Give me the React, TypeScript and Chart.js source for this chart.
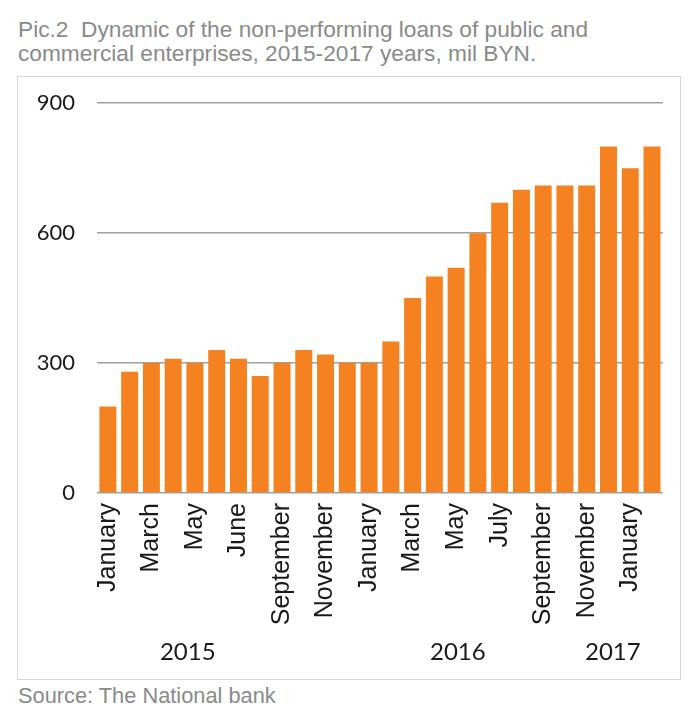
import React, { useEffect, useRef } from "react";
import { Chart, registerables } from "chart.js";

Chart.register(...registerables);

const categories: string[] = [
  "January", "", "March", "", "May", "", "June", "", "September", "", "November", "", "January",
  "", "March", "", "May", "", "July", "", "September", "", "November", "", "January", "",
];

const loans: number[] = [
  200, 280, 300, 310, 300, 330, 310, 270, 300, 330, 320, 300, 300,
  350, 450, 500, 520, 600, 670, 700, 710, 710, 710, 800, 750, 800,
];

const yTicks: number[] = [0, 300, 600, 900];

const yearLabels: string[] = ["2015", "2016", "2017"];
const yearCenters: number[] = [3.67, 16.08, 23.2];

const titleLines: string[] = [
  "Pic.2  Dynamic of the non-performing loans of public and",
  "commercial enterprises, 2015-2017 years, mil BYN.",
];
const sourceText = "Source: The National bank";

const CANVAS_TOP = 68;

const yearPlugin = {
  id: "yearLabels",
  afterDraw(chart: any) {
    const ctx = chart.ctx;
    const xs = chart.scales.x;
    ctx.save();
    ctx.font = "24px Lato";
    ctx.fillStyle = "#1a1a1a";
    ctx.textAlign = "center";
    ctx.textBaseline = "middle";
    yearLabels.forEach((label, i) => {
      const x = xs.getPixelForValue(yearCenters[i]);
      ctx.fillText(label, x, 652 - CANVAS_TOP);
    });
    ctx.restore();
  },
};

export default function App() {
  const ref = useRef<HTMLCanvasElement | null>(null);

  useEffect(() => {
    if (!ref.current) return;
    const chart = new Chart(ref.current, {
      type: "bar",
      data: {
        labels: categories,
        datasets: [
          {
            data: loans,
            backgroundColor: "#F58220",
            borderWidth: 0,
            barPercentage: 0.78,
            categoryPercentage: 1,
          },
        ],
      },
      options: {
        animation: false,
        responsive: false,
        maintainAspectRatio: false,
        devicePixelRatio: 1,
        layout: { padding: { top: 0, right: 0, left: 0, bottom: 0 } },
        plugins: {
          legend: { display: false },
          tooltip: { enabled: false },
          title: { display: false },
        },
        scales: {
          x: {
            grid: { display: false, drawTicks: false },
            border: { display: false },
            afterFit(scale: any) {
              scale.height = 186;
            },
            ticks: {
              autoSkip: false,
              maxRotation: 90,
              minRotation: 90,
              padding: 10,
              color: "#1a1a1a",
              font: { family: "Liberation Sans", size: 25 },
            },
          },
          y: {
            min: 0,
            max: 900,
            afterBuildTicks(scale: any) {
              scale.ticks = yTicks.map((v) => ({ value: v }));
            },
            afterFit(scale: any) {
              scale.width = 79;
            },
            grid: { color: "#a0a0a0", lineWidth: 1.5, drawTicks: false },
            border: { display: false },
            ticks: {
              padding: 22,
              color: "#1a1a1a",
              font: { family: "Lato", size: 22 },
            },
          },
        },
      },
      plugins: [yearPlugin],
    });
    return () => chart.destroy();
  }, []);

  return (
    <div style={{ position: "absolute", left: 0, top: 0, width: 700, height: 727, background: "#fff" }}>
      <div
        style={{
          position: "absolute",
          left: 18,
          top: 17,
          fontFamily: "Liberation Sans",
          fontSize: 22.7,
          lineHeight: "24px",
          color: "#8a8a8a",
          whiteSpace: "pre",
        }}
      >
        {titleLines.map((l, i) => (
          <div key={i}>{l}</div>
        ))}
      </div>
      <div
        style={{
          position: "absolute",
          left: 17,
          top: 76,
          width: 662,
          height: 602,
          border: "1.5px solid #d6d6d6",
        }}
      />
      <canvas
        ref={ref}
        width={674}
        height={611}
        style={{ position: "absolute", left: 18, top: CANVAS_TOP, width: 674, height: 611 }}
      />
      <div
        style={{
          position: "absolute",
          left: 18,
          top: 683,
          fontFamily: "Liberation Sans",
          fontSize: 21.8,
          color: "#8a8a8a",
        }}
      >
        {sourceText}
      </div>
    </div>
  );
}
